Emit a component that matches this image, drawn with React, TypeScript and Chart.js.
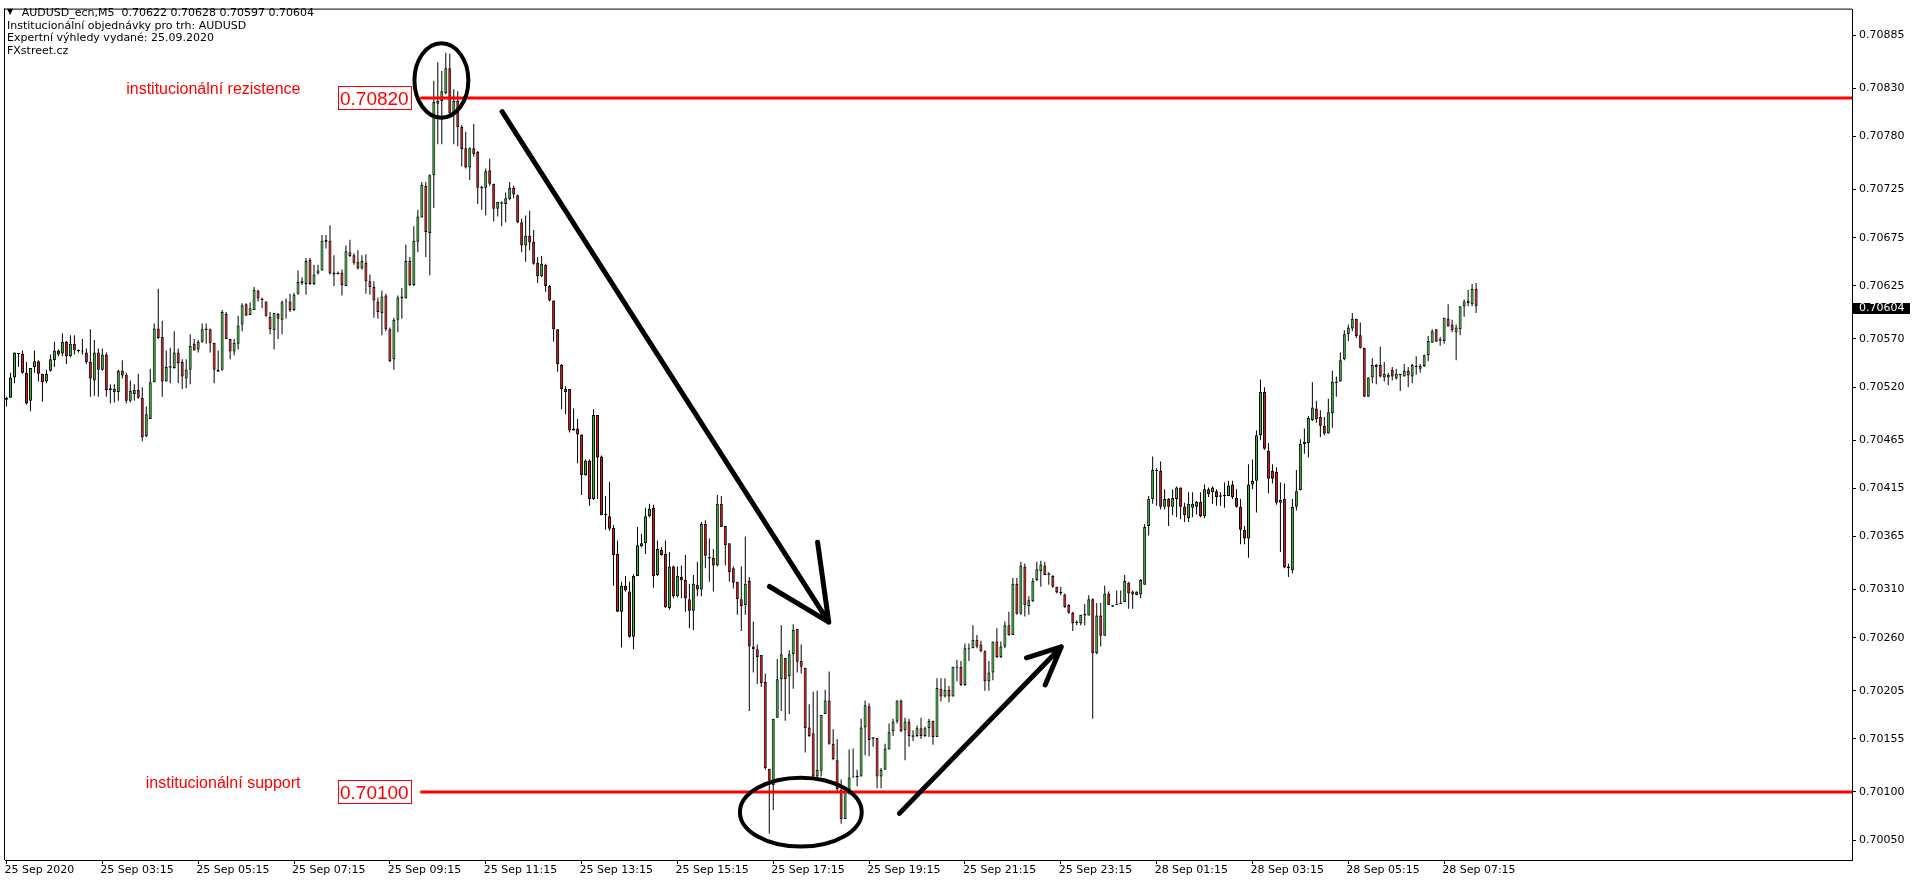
import React, { useEffect, useRef } from "react";
import { Chart, registerables } from "chart.js";

Chart.register(...registerables);

// ---------- DATA (prices in units of 0.00001) ----------
const OPEN = [
  70507,70509,70530,70555,70555,70535,70506,70541,70547,70534,
  70526,70537,70548,70558,70555,70567,70552,70565,70558,70558,
  70556,70546,70527,70556,70538,70554,70519,70515,70515,70537,
  70533,70506,70513,70517,70509,70469,70487,70525,70581,70572,
  70526,70541,70540,70556,70546,70529,70538,70565,70559,70567,
  70580,70580,70566,70538,70538,70596,70570,70557,70565,70585,
  70606,70595,70600,70620,70611,70609,70593,70579,70596,70590,
  70608,70609,70600,70617,70630,70627,70652,70627,70638,70641,
  70671,70672,70639,70638,70639,70625,70660,70657,70650,70643,
  70649,70630,70624,70609,70597,70615,70580,70549,70590,70612,
  70612,70651,70626,70671,70696,70729,70680,70740,70814,70817,
  70825,70851,70804,70817,70790,70768,70748,70768,70764,70727,
  70727,70745,70731,70705,70711,70710,70715,70727,70719,70691,
  70667,70677,70671,70649,70635,70647,70625,70610,70580,70543,
  70515,70518,70477,70477,70471,70429,70444,70404,70491,70448,
  70388,70386,70374,70347,70287,70314,70308,70261,70324,70355,
  70358,70386,70395,70325,70351,70347,70291,70334,70303,70323,
  70320,70300,70288,70315,70310,70378,70343,70343,70335,70399,
  70376,70358,70332,70318,70300,70294,70319,70251,70248,70242,
  70214,70124,70107,70177,70217,70239,70220,70243,70269,70236,
  70229,70167,70161,70116,70122,70181,70195,70150,70133,70102,
  70072,70099,70115,70116,70116,70167,70189,70156,70156,70116,
  70123,70144,70163,70173,70195,70164,70173,70158,70158,70166,
  70158,70166,70174,70157,70207,70199,70206,70199,70230,70230,
  70211,70248,70249,70258,70253,70246,70215,70224,70256,70240,
  70251,70273,70263,70316,70285,70334,70293,70298,70320,70329,
  70335,70326,70324,70313,70307,70305,70294,70286,70276,70275,
  70283,70283,70300,70244,70283,70262,70306,70293,70294,70295,
  70297,70317,70308,70308,70305,70315,70376,70404,70433,70433,
  70396,70404,70396,70404,70416,70396,70384,70395,70396,70401,
  70386,70414,70411,70412,70407,70407,70407,70419,70405,70396,
  70372,70363,70419,70423,70470,70515,70454,70433,70432,70400,
  70404,70334,70330,70396,70413,70461,70462,70486,70498,70489,
  70480,70472,70493,70525,70526,70549,70575,70581,70591,70574,
  70561,70510,70530,70543,70543,70530,70530,70538,70529,70533,
  70531,70537,70531,70541,70539,70542,70553,70566,70580,70569,
  70568,70591,70585,70577,70580,70604,70610,70606,70622,
];
const HIGH = [
  70510,70535,70556,70555,70558,70546,70540,70558,70548,70534,
  70538,70554,70567,70559,70576,70568,70574,70574,70559,70570,
  70560,70580,70569,70560,70560,70556,70523,70523,70538,70548,
  70535,70527,70523,70534,70520,70500,70539,70586,70622,70589,
  70558,70561,70578,70560,70549,70549,70575,70570,70569,70586,
  70586,70581,70566,70558,70600,70598,70570,70570,70594,70607,
  70607,70608,70624,70621,70613,70609,70598,70597,70597,70610,
  70612,70617,70618,70641,70634,70654,70654,70647,70647,70678,
  70678,70688,70657,70640,70642,70667,70673,70659,70662,70657,
  70658,70637,70630,70613,70620,70617,70582,70592,70615,70623,
  70668,70655,70687,70704,70733,70733,70741,70838,70857,70848,
  70867,70866,70829,70827,70792,70785,70769,70793,70765,70729,
  70747,70757,70731,70712,70713,70722,70733,70729,70720,70695,
  70698,70703,70683,70655,70656,70648,70626,70610,70580,70544,
  70521,70518,70498,70487,70471,70445,70445,70497,70491,70449,
  70407,70422,70377,70361,70318,70324,70318,70326,70375,70368,
  70395,70399,70398,70361,70354,70361,70349,70335,70334,70335,
  70346,70316,70325,70339,70380,70382,70363,70352,70408,70407,
  70376,70358,70334,70318,70334,70365,70323,70277,70253,70242,
  70223,70124,70176,70238,70273,70239,70247,70274,70269,70253,
  70229,70191,70204,70205,70180,70206,70225,70165,70155,70113,
  70105,70144,70145,70123,70176,70195,70192,70157,70156,70125,
  70150,70171,70176,70195,70196,70177,70176,70164,70169,70177,
  70168,70176,70174,70218,70218,70218,70210,70230,70237,70236,
  70254,70254,70273,70263,70257,70247,70236,70256,70270,70256,
  70277,70287,70322,70322,70339,70337,70303,70322,70339,70340,
  70339,70328,70325,70313,70313,70306,70295,70287,70278,70284,
  70295,70304,70301,70296,70296,70314,70308,70294,70309,70309,
  70325,70318,70309,70308,70321,70378,70407,70448,70436,70443,
  70414,70405,70414,70417,70416,70400,70411,70411,70402,70411,
  70419,70416,70417,70414,70411,70421,70423,70423,70414,70404,
  70376,70440,70445,70475,70528,70520,70462,70440,70437,70421,
  70420,70337,70404,70434,70466,70477,70490,70525,70506,70496,
  70489,70508,70537,70531,70556,70579,70585,70597,70591,70587,
  70561,70530,70550,70544,70562,70546,70535,70541,70539,70534,
  70544,70541,70544,70552,70544,70554,70573,70580,70580,70572,
  70592,70606,70590,70585,70604,70611,70621,70627,70628,
];
const LOW = [
  70500,70509,70524,70541,70534,70502,70495,70535,70526,70505,
  70524,70536,70541,70552,70552,70544,70551,70554,70556,70554,
  70544,70510,70511,70510,70537,70510,70503,70504,70506,70529,
  70503,70504,70506,70508,70464,70468,70487,70525,70570,70510,
  70526,70524,70539,70524,70518,70519,70523,70558,70556,70566,
  70565,70556,70524,70536,70537,70570,70549,70553,70559,70578,
  70594,70595,70600,70609,70602,70593,70575,70559,70570,70575,
  70591,70598,70599,70616,70626,70616,70626,70626,70637,70641,
  70664,70637,70625,70637,70615,70625,70655,70647,70642,70642,
  70617,70616,70592,70591,70574,70578,70546,70538,70577,70591,
  70612,70625,70625,70660,70696,70655,70636,70706,70772,70772,
  70824,70804,70772,70770,70749,70747,70735,70759,70710,70704,
  70698,70729,70692,70697,70687,70691,70714,70716,70690,70660,
  70650,70662,70647,70628,70634,70619,70609,70567,70536,70497,
  70492,70473,70475,70441,70408,70428,70397,70403,70404,70387,
  70372,70371,70314,70287,70250,70308,70260,70248,70324,70354,
  70347,70385,70312,70324,70345,70291,70289,70301,70302,70301,
  70287,70270,70268,70303,70303,70332,70318,70308,70334,70375,
  70335,70318,70311,70284,70267,70284,70184,70224,70212,70209,
  70123,70057,70081,70177,70184,70174,70181,70207,70224,70223,
  70141,70157,70114,70112,70116,70181,70149,70133,70100,70067,
  70072,70097,70115,70106,70116,70138,70137,70147,70104,70104,
  70123,70144,70158,70171,70162,70133,70147,70153,70157,70155,
  70157,70157,70149,70157,70194,70198,70193,70199,70215,70210,
  70210,70236,70249,70249,70245,70205,70205,70216,70239,70239,
  70249,70262,70263,70284,70284,70282,70284,70297,70319,70313,
  70325,70315,70312,70306,70304,70291,70285,70267,70273,70273,
  70273,70283,70176,70243,70251,70262,70294,70292,70294,70295,
  70297,70290,70290,70304,70301,70315,70366,70399,70397,70393,
  70393,70376,70387,70385,70383,70380,70380,70385,70388,70385,
  70384,70406,70399,70397,70397,70395,70407,70404,70395,70357,
  70357,70343,70414,70390,70465,70455,70410,70420,70398,70349,
  70332,70323,70327,70392,70413,70451,70447,70485,70483,70468,
  70470,70472,70478,70510,70526,70548,70568,70578,70571,70560,
  70510,70510,70524,70523,70530,70526,70522,70527,70528,70516,
  70531,70520,70524,70533,70535,70541,70547,70566,70567,70563,
  70565,70583,70577,70548,70574,70593,70604,70604,70597,
];
const CLOSE = [
  70509,70530,70556,70555,70535,70503,70540,70547,70534,70525,
  70534,70549,70558,70554,70567,70552,70565,70558,70558,70557,
  70546,70529,70556,70538,70554,70517,70517,70518,70537,70532,
  70506,70516,70517,70509,70468,70492,70525,70581,70571,70526,
  70541,70541,70556,70545,70531,70538,70563,70558,70567,70580,
  70580,70566,70538,70536,70598,70570,70557,70566,70584,70605,
  70594,70602,70621,70612,70611,70594,70580,70597,70591,70608,
  70609,70600,70616,70629,70628,70651,70627,70637,70641,70672,
  70673,70638,70637,70638,70626,70661,70656,70649,70643,70651,
  70630,70624,70610,70598,70614,70580,70547,70590,70613,70614,
  70651,70626,70672,70697,70730,70681,70740,70816,70817,70827,
  70851,70804,70817,70790,70767,70748,70768,70762,70727,70727,
  70744,70731,70705,70712,70711,70716,70727,70720,70691,70667,
  70677,70670,70648,70635,70648,70625,70610,70580,70544,70518,
  70518,70475,70475,70471,70429,70444,70404,70491,70447,70387,
  70388,70373,70346,70287,70314,70309,70261,70324,70356,70358,
  70386,70394,70324,70352,70346,70292,70334,70303,70324,70320,
  70301,70288,70316,70310,70378,70345,70343,70335,70399,70375,
  70356,70328,70317,70300,70293,70316,70251,70248,70240,70213,
  70125,70112,70176,70217,70243,70217,70243,70268,70235,70230,
  70166,70158,70116,70123,70180,70195,70150,70134,70103,70072,
  70100,70115,70116,70116,70167,70190,70154,70156,70116,70123,
  70145,70162,70173,70195,70163,70173,70158,70158,70166,70158,
  70166,70174,70157,70208,70199,70206,70199,70230,70229,70211,
  70249,70249,70258,70251,70246,70215,70224,70256,70240,70251,
  70273,70263,70316,70285,70335,70294,70299,70319,70331,70336,
  70325,70326,70313,70307,70307,70292,70286,70275,70276,70284,
  70285,70300,70244,70283,70262,70306,70294,70293,70295,70296,
  70319,70306,70305,70304,70320,70375,70404,70434,70434,70396,
  70404,70396,70405,70416,70396,70387,70399,70399,70401,70386,
  70414,70409,70416,70406,70407,70408,70418,70406,70396,70372,
  70363,70419,70423,70470,70515,70456,70425,70425,70400,70403,
  70333,70332,70396,70412,70461,70463,70488,70499,70487,70480,
  70472,70494,70526,70525,70548,70575,70582,70591,70573,70561,
  70510,70530,70543,70541,70531,70534,70533,70531,70534,70533,
  70537,70532,70543,70542,70542,70553,70568,70578,70567,70569,
  70592,70583,70579,70582,70604,70609,70607,70622,70604,
];
const PRICE_UNIT = 0.00001;

// time axis: one label every 24 bars (2 hours of M5)
const TIME_TICK_BARS = [0, 24, 48, 72, 96, 120, 144, 168, 192, 216, 240, 264, 288, 312, 336, 360];
const TIME_TICK_LABELS = [
  "25 Sep 2020", "25 Sep 03:15", "25 Sep 05:15", "25 Sep 07:15", "25 Sep 09:15",
  "25 Sep 11:15", "25 Sep 13:15", "25 Sep 15:15", "25 Sep 17:15", "25 Sep 19:15",
  "25 Sep 21:15", "25 Sep 23:15", "28 Sep 01:15", "28 Sep 03:15", "28 Sep 05:15",
  "28 Sep 07:15",
];
const PRICE_TICKS = [
  0.70885, 0.7083, 0.7078, 0.70725, 0.70675, 0.70625, 0.7057, 0.7052, 0.70465,
  0.70415, 0.70365, 0.7031, 0.7026, 0.70205, 0.70155, 0.701, 0.7005,
];
const X_RANGE = [-0.375, 462.125];
const Y_RANGE = [0.7002943, 0.7091174];

const LEVEL_PRICES = [0.7082, 0.701];
const LEVEL_TEXTS = ["institucionální rezistence", "institucionální support"];
const LEVEL_START_BAR = 103.6;
const LAST_PRICE = 0.70604;

const HEADER_SYMBOL = "AUDUSD_ecn,M5  0.70622 0.70628 0.70597 0.70604";
const HEADER_LINES = [
  "Institucionální objednávky pro trh: AUDUSD",
  "Expertní výhledy vydané: 25.09.2020",
  "FXstreet.cz",
];

// hand-drawn marks, placed in (bar index, price)
const ELLIPSES = [
  { bar: 108.9, price: 0.708382, halfBars: 6.75, halfPrice: 0.000386 },
  { bar: 198.9, price: 0.700791, halfBars: 15.25, halfPrice: 0.000357 },
];
const ARROWS = [
  {
    from: [124.1, 0.708058],
    to: [205.9, 0.702762],
    barbs: [[203.1, 0.703592], [191.05, 0.703132]],
  },
  {
    from: [223.6, 0.700778],
    to: [264.1, 0.702505],
    barbs: [[255.4, 0.702392], [260.1, 0.702111]],
  },
];

// ---------- STYLE ----------
const BULL = "#33c433";
const BEAR = "#ee1111";
const LEVEL_COLOR = "#ff0000";
const AXIS_FONT = { family: "'DejaVu Sans'", size: 11 };

const overlayPlugin = {
  id: "mtOverlay",
  afterDraw(chart: any) {
    const { ctx, chartArea: a } = chart;
    const xs = chart.scales.x;
    const ys = chart.scales.y;
    const X = (b: number) => xs.getPixelForValue(b);
    const Y = (v: number) => ys.getPixelForValue(v);
    ctx.save();
    // window frame (left / top)
    ctx.fillStyle = "#000";
    ctx.fillRect(a.left - 1, a.top - 1, 1, a.bottom - a.top + 1);
    ctx.fillRect(a.left - 1, a.top - 1, a.right - a.left + 1, 1);

    // level price boxes and names
    LEVEL_PRICES.forEach((lv, k) => {
      const yy = Y(lv);
      const x0 = X(LEVEL_START_BAR);
      const bw = 74;
      const bh = 24;
      const bx = Math.round(x0 - 8.5 - bw);
      const by = Math.round(yy - bh / 2);
      ctx.fillStyle = "#fff";
      ctx.fillRect(bx, by, bw, bh);
      ctx.strokeStyle = LEVEL_COLOR;
      ctx.lineWidth = 1;
      ctx.strokeRect(bx + 0.5, by + 0.5, bw - 1, bh - 1);
      ctx.fillStyle = LEVEL_COLOR;
      ctx.textBaseline = "alphabetic";
      ctx.textAlign = "left";
      ctx.font = "19px 'Liberation Sans'";
      ctx.fillText(lv.toFixed(5), bx + 2, yy + 7);
      ctx.textAlign = "right";
      ctx.font = "16px 'Liberation Sans'";
      ctx.fillText(LEVEL_TEXTS[k], bx - 37.5, yy - 4);
    });

    // ellipses
    ctx.strokeStyle = "#000";
    ctx.lineWidth = 4;
    ELLIPSES.forEach((e) => {
      const cx = X(e.bar);
      const cy = Y(e.price);
      const rx = Math.abs(X(e.bar + e.halfBars) - cx);
      const ry = Math.abs(Y(e.price + e.halfPrice) - cy);
      ctx.beginPath();
      ctx.ellipse(cx, cy, rx, ry, 0, 0, Math.PI * 2);
      ctx.stroke();
    });

    // arrows
    ctx.lineWidth = 5;
    ctx.lineCap = "round";
    ctx.lineJoin = "round";
    ARROWS.forEach((ar) => {
      const tx = X(ar.to[0]);
      const ty = Y(ar.to[1]);
      ctx.beginPath();
      ctx.moveTo(X(ar.from[0]), Y(ar.from[1]));
      ctx.lineTo(tx, ty);
      ar.barbs.forEach((b) => {
        ctx.moveTo(X(b[0]), Y(b[1]));
        ctx.lineTo(tx, ty);
      });
      ctx.stroke();
    });

    // last price tag on the price axis
    const ly = Y(LAST_PRICE);
    ctx.fillStyle = "#000";
    ctx.fillRect(a.right + 1, Math.round(ly - 3.5), 57, 11);
    ctx.fillStyle = "#fff";
    ctx.font = "11px 'DejaVu Sans'";
    ctx.textAlign = "left";
    ctx.textBaseline = "middle";
    ctx.fillText(LAST_PRICE.toFixed(5), a.right + 7, ly + 2);
    ctx.restore();
  },
};

function buildConfig(): any {
  const bars = OPEN.map((_, i) => i);
  const p = (v: number) => v * PRICE_UNIT;
  const bodyIdx = bars.filter((i) => OPEN[i] !== CLOSE[i]);
  const dojiIdx = bars.filter((i) => OPEN[i] === CLOSE[i]);
  const levelSets = LEVEL_PRICES.map((lv, k) => ({
    type: "line",
    label: LEVEL_TEXTS[k],
    data: [
      { x: LEVEL_START_BAR, y: lv },
      { x: X_RANGE[1], y: lv },
    ],
    borderColor: LEVEL_COLOR,
    borderWidth: 3,
    pointRadius: 0,
    fill: false,
    tension: 0,
    order: 0,
  }));
  return {
    type: "bar",
    data: {
      datasets: [
        ...levelSets,
        {
          type: "bar",
          label: "Body",
          data: bodyIdx.map((i) => ({ x: i, y: [p(OPEN[i]), p(CLOSE[i])] })),
          backgroundColor: bodyIdx.map((i) => (CLOSE[i] > OPEN[i] ? BULL : BEAR)),
          borderColor: "#000",
          borderWidth: 1,
          borderSkipped: false,
          barThickness: 3,
          grouped: false,
          inflateAmount: 1e-6,
          order: 1,
        },
        {
          type: "scatter",
          label: "Doji",
          data: dojiIdx.map((i) => ({ x: i, y: p(OPEN[i]) })),
          pointStyle: "line",
          pointRadius: 1.5,
          pointBorderColor: "#000",
          pointBorderWidth: 1,
          showLine: false,
          order: 1,
        },
        {
          type: "bar",
          label: "Wick",
          data: bars.map((i) => ({ x: i, y: [p(LOW[i]), p(HIGH[i])] })),
          backgroundColor: "#000",
          borderWidth: 0,
          barThickness: 1,
          grouped: false,
          inflateAmount: 1e-6,
          order: 2,
        },
      ],
    },
    options: {
      responsive: false,
      maintainAspectRatio: false,
      animation: false,
      devicePixelRatio: 1,
      events: [],
      layout: { padding: { left: 2, top: 2, right: 0, bottom: 0 } },
      plugins: { legend: { display: false }, tooltip: { enabled: false }, title: { display: false } },
      scales: {
        x: {
          type: "linear",
          position: "bottom",
          min: X_RANGE[0],
          max: X_RANGE[1],
          offset: false,
          grid: {
            display: true,
            offset: false,
            drawOnChartArea: false,
            drawTicks: true,
            tickLength: 4,
            tickColor: "#000",
            color: "#000",
          },
          border: { display: true, color: "#000", width: 1 },
          ticks: {
            autoSkip: false,
            maxRotation: 0,
            minRotation: 0,
            align: "start",
            padding: 0,
            labelOffset: -2,
            color: "#000",
            font: AXIS_FONT,
            callback: (_v: any, index: number) => TIME_TICK_LABELS[index] ?? "",
          },
          afterBuildTicks: (axis: any) => {
            axis.ticks = TIME_TICK_BARS.map((v) => ({ value: v }));
          },
          afterFit: (axis: any) => {
            axis.height = 24;
          },
        },
        y: {
          type: "linear",
          position: "right",
          min: Y_RANGE[0],
          max: Y_RANGE[1],
          grid: {
            display: true,
            drawOnChartArea: false,
            drawTicks: true,
            tickLength: 4,
            tickColor: "#000",
            color: "#000",
          },
          border: { display: true, color: "#000", width: 1 },
          ticks: {
            padding: 3,
            color: "#000",
            font: AXIS_FONT,
            callback: (v: any) => Number(v).toFixed(5),
          },
          afterBuildTicks: (axis: any) => {
            axis.ticks = PRICE_TICKS.map((v) => ({ value: v }));
          },
          afterFit: (axis: any) => {
            axis.width = 64;
          },
        },
      },
    },
    plugins: [overlayPlugin],
  };
}

export default function App() {
  const canvasRef = useRef<HTMLCanvasElement | null>(null);

  useEffect(() => {
    document.body.style.margin = "0";
    document.documentElement.style.overflow = "hidden";
    const canvas = canvasRef.current;
    if (!canvas) return;
    const chart = new Chart(canvas, buildConfig());
    return () => {
      chart.destroy();
    };
  }, []);

  return (
    <div style={{ position: "relative", width: 1916, height: 884, background: "#fff", overflow: "hidden" }}>
      <canvas ref={canvasRef} width={1916} height={884} style={{ display: "block", width: 1916, height: 884 }} />
      <div
        style={{
          position: "absolute",
          left: 7,
          top: 7,
          fontFamily: "'DejaVu Sans'",
          fontSize: 11,
          lineHeight: "12.2px",
          color: "#000",
          whiteSpace: "pre",
          pointerEvents: "none",
        }}
      >
        <div>
          <span style={{ fontSize: 8, display: "inline-block", width: 14.7, position: "relative", top: -2 }}>▼</span>
          {HEADER_SYMBOL}
        </div>
        {HEADER_LINES.map((line) => (
          <div key={line}>{line}</div>
        ))}
      </div>
    </div>
  );
}
